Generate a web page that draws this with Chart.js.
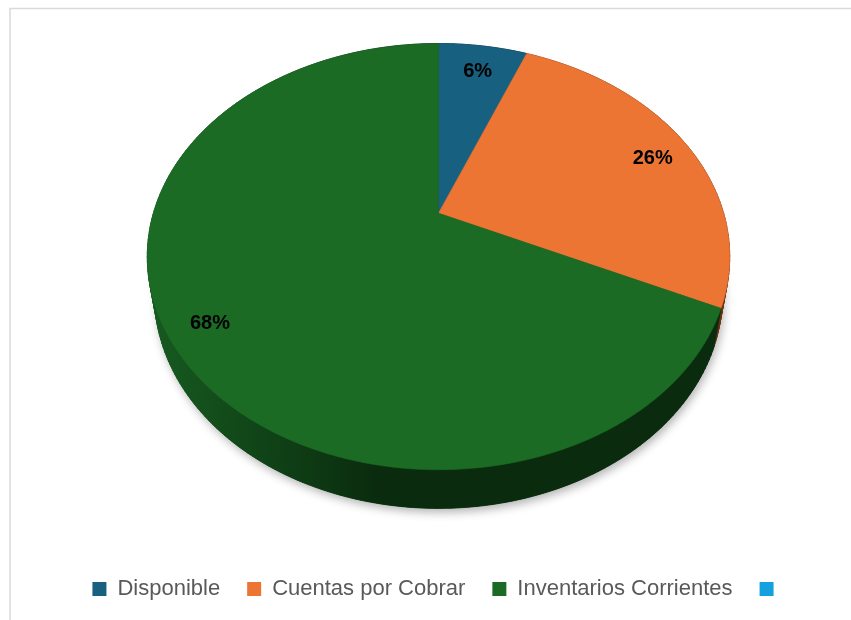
<!DOCTYPE html>
<html>
<head>
<meta charset="utf-8">
<script src="https://cdn.jsdelivr.net/npm/chart.js@4.4.1/dist/chart.umd.min.js"></script>
<style>
  html, body { margin: 0; padding: 0; background: #fff; }
  #wrap { position: relative; width: 851px; height: 620px; }
</style>
</head>
<body>
<div id="wrap"><canvas id="pie"></canvas></div>
<script>
// ── data ──
var categories = ['Disponible', 'Cuentas por Cobrar', 'Inventarios Corrientes', ''];
var shares = [6, 26, 68, 0];
var pctLabels = ['6%', '26%', '68%', ''];

// ── colours: top face, lit wall, shaded wall ──
var topColors = ['#17607f', '#ed7534', '#1b6b25', '#13a2dd'];
var sideLight = ['#0f4257', '#9a4a1f', '#175c21', '#0e7aa6'];
var sideDark = ['#092a38', '#6a3213', '#0a2b0e', '#0a5677'];

// tilted view of the pie plane, as fractions of the chart.js outer radius
// (shrink narrows the far-away bottom rim a little)
var view = { sx: 1.054, sy: 0.755, persp: 0.204, lift: -0.249, depth: 0.143, shrink: 0.975 };

function proj(arc, ang, r, dy) {
  var R = arc.outerRadius;
  var u = Math.cos(ang) * r, v = Math.sin(ang) * r;
  var w = 1 - view.persp * v;
  var k = dy ? view.shrink : 1;
  return [arc.x + k * view.sx * R * u / w, arc.y + view.lift * R + view.sy * R * v / w + (dy || 0)];
}

function rimPath(ctx, arc, dy) {
  for (var i = 0; i <= 360; i++) {
    var p = proj(arc, i * Math.PI / 180, 1, dy);
    if (i === 0) ctx.moveTo(p[0], p[1]); else ctx.lineTo(p[0], p[1]);
  }
  ctx.closePath();
}

var frame = {
  id: 'frame',
  beforeDraw: function (chart) {
    var ctx = chart.ctx;
    ctx.save();
    ctx.fillStyle = '#fff';
    ctx.fillRect(0, 0, chart.width, chart.height);
    ctx.strokeStyle = '#d9d9d9';
    ctx.lineWidth = 1.5;
    ctx.strokeRect(10, 8.5, chart.width + 20, chart.height + 20);
    ctx.restore();
  }
};

var pie3d = {
  id: 'pie3d',
  beforeDatasetsDraw: function (chart) {
    var ctx = chart.ctx;
    var arcs = chart.getDatasetMeta(0).data;
    var a = arcs[0];
    var D = view.depth * a.outerRadius;

    ctx.save();
    // soft shadow under the solid
    ctx.save();
    ctx.shadowColor = 'rgba(0,0,0,0.3)';
    ctx.shadowBlur = 10;
    ctx.shadowOffsetX = 2;
    ctx.shadowOffsetY = 4;
    ctx.fillStyle = sideDark[2];
    ctx.beginPath();
    rimPath(ctx, a, D);
    ctx.fill();
    ctx.restore();

    // outer walls, back to front
    var left = a.x - view.sx * a.outerRadius * 1.03;
    var right = a.x + view.sx * a.outerRadius * 1.03;
    var grads = arcs.map(function (el, i) {
      var g = ctx.createLinearGradient(left, 0, right, 0);
      g.addColorStop(0, sideLight[i]);
      g.addColorStop(0.4, sideDark[i]);
      g.addColorStop(1, sideDark[i]);
      return g;
    });
    var segs = [];
    arcs.forEach(function (el, i) {
      var sweep = el.endAngle - el.startAngle;
      if (sweep <= 0) return;
      var n = Math.max(2, Math.ceil(sweep / 0.02));
      for (var k = 0; k < n; k++) {
        var a0 = el.startAngle + sweep * k / n, a1 = el.startAngle + sweep * (k + 1) / n;
        segs.push({ i: i, a0: a0, a1: a1, v: Math.sin((a0 + a1) / 2) });
      }
    });
    segs.sort(function (p, q) { return p.v - q.v; });
    ctx.lineWidth = 0.8;
    segs.forEach(function (s) {
      var p0 = proj(a, s.a0, 1), p1 = proj(a, s.a1, 1);
      var q0 = proj(a, s.a0, 1, D), q1 = proj(a, s.a1, 1, D);
      ctx.beginPath();
      ctx.moveTo(p0[0], p0[1]);
      ctx.lineTo(p1[0], p1[1]);
      ctx.lineTo(q1[0], q1[1]);
      ctx.lineTo(q0[0], q0[1]);
      ctx.closePath();
      ctx.fillStyle = grads[s.i];
      ctx.strokeStyle = grads[s.i];
      ctx.fill();
      ctx.stroke();
    });

    // top faces
    var apex = proj(a, 0, 0);
    arcs.forEach(function (el, i) {
      var sweep = el.endAngle - el.startAngle;
      if (sweep <= 0) return;
      var n = Math.max(2, Math.ceil(sweep / 0.01));
      ctx.beginPath();
      ctx.moveTo(apex[0], apex[1]);
      for (var k = 0; k <= n; k++) {
        var p = proj(a, el.startAngle + sweep * k / n, 1);
        ctx.lineTo(p[0], p[1]);
      }
      ctx.closePath();
      ctx.fillStyle = topColors[i];
      ctx.strokeStyle = topColors[i];
      ctx.lineWidth = 0.6;
      ctx.fill();
      ctx.stroke();
    });

    // percentage labels, centred a little below the radial anchor
    ctx.fillStyle = '#000';
    ctx.font = 'bold 20px "Liberation Sans", Arial, sans-serif';
    ctx.textAlign = 'center';
    ctx.textBaseline = 'middle';
    arcs.forEach(function (el, i) {
      if (!pctLabels[i] || el.endAngle - el.startAngle <= 0) return;
      var p = proj(a, (el.startAngle + el.endAngle) / 2, 0.86);
      ctx.fillText(pctLabels[i], p[0], p[1] + 6);
    });
    ctx.restore();
    return false;
  }
};

new Chart(document.getElementById('pie'), {
  type: 'pie',
  data: {
    labels: categories,
    datasets: [{
      data: shares,
      backgroundColor: topColors,
      borderColor: topColors,
      borderWidth: 0
    }]
  },
  options: {
    responsive: true,
    maintainAspectRatio: false,
    animation: false,
    events: [],
    layout: { padding: { top: 10, left: 26, right: 0, bottom: 10 } },
    plugins: {
      tooltip: { enabled: false },
      legend: {
        position: 'bottom',
        labels: {
          boxWidth: 14,
          boxHeight: 14,
          padding: 27,
          color: '#595959',
          font: { size: 22, family: '"Liberation Sans", Arial, sans-serif' }
        }
      }
    }
  },
  plugins: [frame, pie3d]
});
</script>
</body>
</html>
